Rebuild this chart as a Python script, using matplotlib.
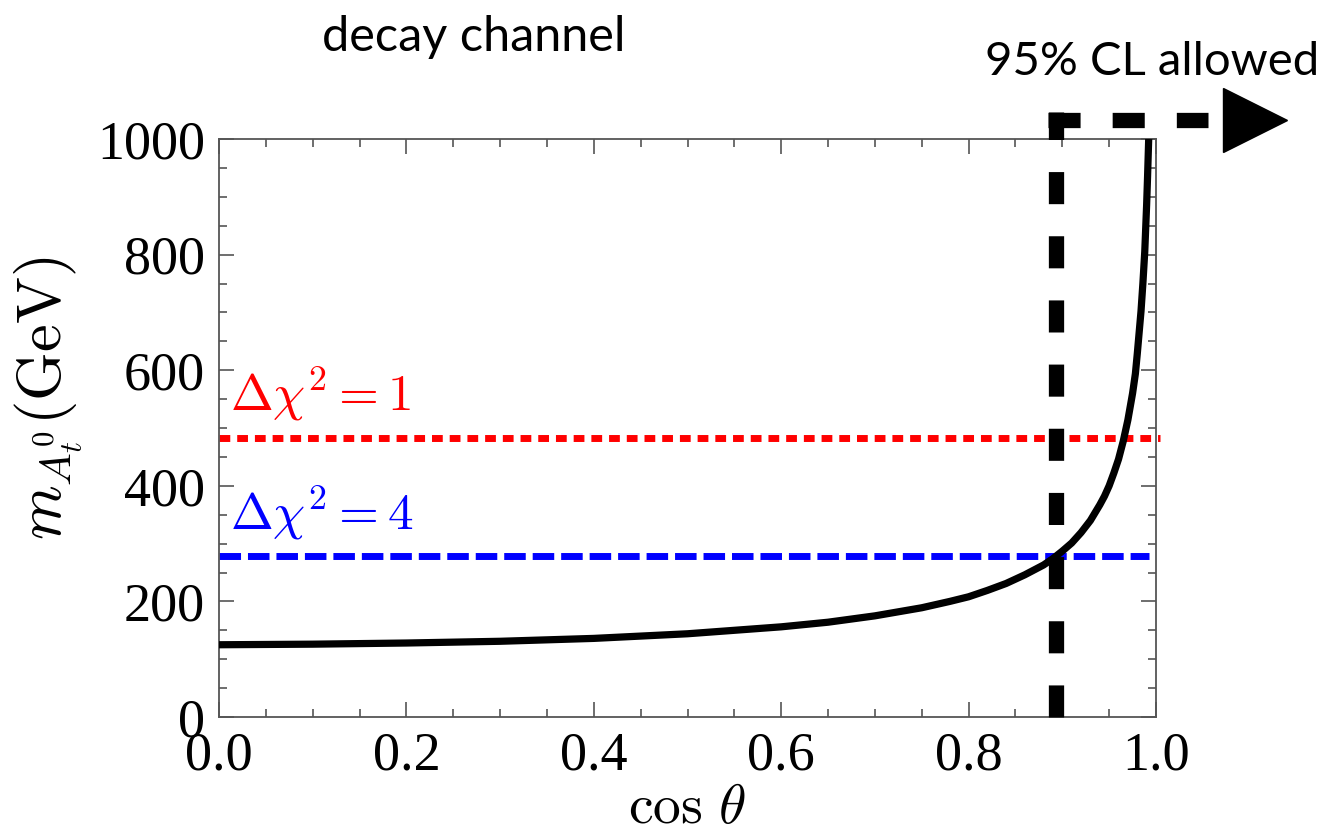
import numpy as np
import matplotlib
matplotlib.use("Agg")
import matplotlib.pyplot as plt
from matplotlib.ticker import MultipleLocator

cos_theta = [0.0, 0.1, 0.2, 0.3, 0.4, 0.5, 0.55, 0.6, 0.65, 0.7, 0.75, 0.78,
             0.8, 0.82, 0.84, 0.86, 0.88, 0.89, 0.9, 0.91, 0.92, 0.93, 0.94,
             0.945, 0.95, 0.955, 0.96, 0.965, 0.97, 0.975, 0.978, 0.98,
             0.982, 0.984, 0.986, 0.988, 0.99, 0.991, 0.9922]
m_A = [125, 126, 128, 131, 136, 144, 150, 156, 164, 175, 189, 200,
       208, 219, 231, 246, 263, 274, 287, 301, 319, 340, 367,
       382, 400, 422, 446, 477, 514, 560, 594, 628,
       665, 702, 750, 805, 886, 935, 1000]

chi2_1 = 483      # Delta chi^2 = 1
chi2_4 = 278      # Delta chi^2 = 4
cos_limit = 0.893  # 95% CL bound

x_ticks = [0.0, 0.2, 0.4, 0.6, 0.8, 1.0]
x_ticklabels = ["0.0", "0.2", "0.4", "0.6", "0.8", "1.0"]
y_ticks = [0, 200, 400, 600, 800, 1000]

plt.rcParams['mathtext.fontset'] = 'cm'
serif = 'Liberation Serif'
sans = 'Lato'

fig = plt.figure(figsize=(13.35, 8.35), dpi=100)
ax = fig.add_axes([219 / 1335, 1 - 717 / 835, 937 / 1335, 578 / 835])

ax.set_xlim(0, 1)
ax.set_ylim(0, 1000)

# horizontal reference lines
ax.plot([0, 1.004], [chi2_1, chi2_1], color='red', lw=5, dashes=(1.55, 1.0),
        dash_capstyle='butt', clip_on=False, zorder=2)
ax.plot([0, 0.9925], [chi2_4, chi2_4], color='blue', lw=5, dashes=(3.1, 1.0),
        dash_capstyle='butt', zorder=2)

# mass curve
ax.plot(cos_theta, m_A, color='black', lw=5.2, zorder=3, solid_capstyle='butt')

# 95% CL allowed region: dashed bound, then dashed arrow to the right
ax.plot([cos_limit, cos_limit], [0, 1047], color='black', lw=11,
        dashes=(2.1, 2.1), dash_capstyle='butt', clip_on=False, zorder=4)
ax.plot([0.8847, 1.0555], [1033, 1033], color='black', lw=11,
        dashes=(2.1, 2.1), dash_capstyle='butt', clip_on=False, zorder=4)
ax.plot([1.1057], [1033], marker='>', markersize=46, color='black',
        clip_on=False, zorder=4)

# labels on the reference lines
ax.text(0.012, chi2_1 + 25, r'$\Delta\chi^2 = 1$', color='red', fontsize=37,
        ha='left', va='bottom')
ax.text(0.012, chi2_4 + 25, r'$\Delta\chi^2 = 4$', color='blue', fontsize=37,
        ha='left', va='bottom')

# ticks on all sides, pointing in
ax.set_xticks(x_ticks)
ax.set_xticklabels(x_ticklabels)
ax.set_yticks(y_ticks)
ax.xaxis.set_minor_locator(MultipleLocator(0.05))
ax.yaxis.set_minor_locator(MultipleLocator(50))
ax.tick_params(which='both', direction='in', top=True, right=True,
               color='#555555', width=1.2)
ax.tick_params(which='major', length=11, pad=10, labelsize=39)
ax.tick_params(which='minor', length=6)
for lab in ax.get_xticklabels() + ax.get_yticklabels():
    lab.set_fontfamily(serif)
for sp in ax.spines.values():
    sp.set_color('#555555')
    sp.set_linewidth(1.3)

ax.set_xlabel(r'$\cos\,\theta$', fontsize=40, labelpad=0)
ax.set_ylabel(r'$m_{A_t^0}(\mathrm{GeV})$', fontsize=45)
ax.yaxis.set_label_coords(-0.143, 0.552)

fig.text(474 / 1335, 1 - 37 / 835, 'decay channel', family=sans,
         fontsize=35, ha='center', va='center')
fig.text(1152 / 1335, 1 - 62 / 835, '95% CL allowed', family=sans,
         fontsize=34, ha='center', va='center')

plt.savefig('out.png', dpi=100)
